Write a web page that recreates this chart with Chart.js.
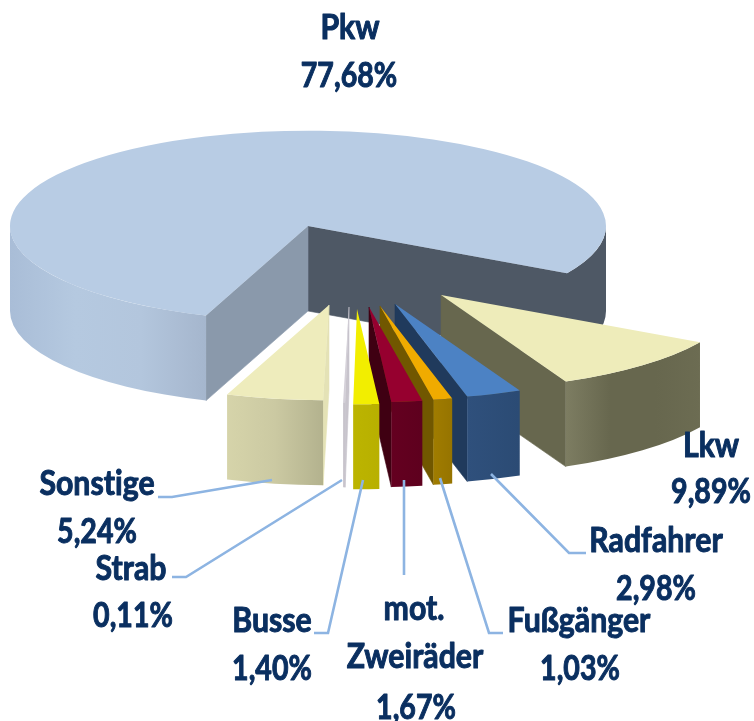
<!DOCTYPE html>
<html lang="de">
<head>
<meta charset="utf-8">
<title>Modal Split</title>
<script src="https://cdn.jsdelivr.net/npm/chart.js@4/dist/chart.umd.min.js"></script>
<style>
html,body{margin:0;padding:0;background:#fff;overflow:hidden}
#wrap{position:absolute;left:0;top:0;width:754px;height:721px}
canvas{display:block;filter:blur(0.55px)}
</style>
</head>
<body>
<div id="wrap"><canvas id="c" width="754" height="721"></canvas></div>
<script>
// ---- data ----
const categories = ['Pkw','Lkw','Radfahrer','Fußgänger','mot. Zweiräder','Busse','Strab','Sonstige'];
const shares = [77.68,9.89,2.98,1.03,1.67,1.40,0.11,5.24];

// ---- styles ----
const topColors = ['#b8cce4','#eeecba','#4c82c4','#f0ab00','#96002f','#f2ee00','#d4d0d8','#eeecbc'];
const cutStartColors = ['#8a99ab','#67674e','#203a5c','#715700','#3f0012','#b8b000','#c8c4cc','#e4e2b6'];
const cutEndColors = ['#4e5865','#67674e','#203a5c','#715700','#3f0012','#b8b000','#c8c4cc','#e4e2b6'];
const rimStops = [
  [['#a9bdd7','#b5c9e0','#b3c6dd','#a5b6cd'],['#4e5865','#4e5865']],
  [['#7d7d62','#67674e','#67674e','#6c6c52']],
  [['#2f507c','#2b4b74']],
  [['#a07c00','#967400']],
  [['#640020','#5e001e']],
  [['#bcb400','#b8b000']],
  [['#c8c4cc','#c8c4cc']],
  [['#d6d4aa','#cbc9a2','#b3b28e']]
];
const tiltRatio = 0.32, wallDepth = 85, pieRadius = 298;
const explodeShift = [[0,0],[133,69],[87,78],[72,80],[61,81],[49,83],[41,81],[21,79]];
const textColor = '#0a2f60', leaderColor = '#8db4e2';
const labelFont = 'bold 34px "Lato",sans-serif';
const nameSqueeze = 0.89, percentSqueeze = 0.84;
const labelLines = [
  [['Pkw',350,39],[0,349,87]],
  [['Lkw',711,457],[1,711,503]],
  [['Radfahrer',656,552],[2,656,600]],
  [['Fußgänger',579,632],[3,580,680]],
  [['mot.',414,620],['Zweiräder',415,668],[4,416,719]],
  [['Busse',272,632],[5,272,680]],
  [['Strab',131,580],[6,133,627]],
  [['Sonstige',97,495],[7,97,543]]
];
const leaders = [
  [[158,497],[172,497],[272,480]],
  [[172,577],[186,577],[342,480]],
  [[314,633],[328,633],[363,480]],
  [[404,480],[404,575]],
  [[440,478],[489,633],[503,633]],
  [[491,474],[569,553],[586,553]]
];

function percentText(v){ return v.toFixed(2).replace('.',',') + '%'; }

function rimIntervals(a0,a1){
  const out=[], tau=Math.PI*2;
  for(let k=Math.floor(a0/tau)-1;k<=Math.ceil(a1/tau);k++){
    const s=Math.max(a0,k*tau), e=Math.min(a1,k*tau+Math.PI);
    if(e>s) out.push([s,e]);
  }
  return out;
}

const pie3d = {
  id:'pie3d',
  beforeDatasetDraw(chart,args){
    const ctx=chart.ctx, arcs=chart.getDatasetMeta(args.index).data;
    arcs.forEach((el,i)=>{
      const {x,y,startAngle:a0,endAngle:a1,outerRadius:R}=el;
      const cx=x+explodeShift[i][0], cy=y+explodeShift[i][1], ry=R*tiltRatio;
      const px=t=>cx+R*Math.cos(t), py=t=>cy+ry*Math.sin(t);
      const quad=(t,color)=>{
        ctx.fillStyle=color; ctx.strokeStyle=color; ctx.lineWidth=0.6;
        ctx.beginPath(); ctx.moveTo(cx,cy); ctx.lineTo(px(t),py(t));
        ctx.lineTo(px(t),py(t)+wallDepth); ctx.lineTo(cx,cy+wallDepth); ctx.closePath();
        ctx.fill(); ctx.stroke();
      };
      if(Math.cos(a1)>0) quad(a1,cutEndColors[i]);
      if(Math.cos(a0)<0) quad(a0,cutStartColors[i]);
      rimIntervals(a0,a1).forEach((iv,n)=>{
        const xs=[px(iv[0]),px(iv[1])];
        const left=Math.min(...xs), right=Math.max(...xs);
        const stops=(rimStops[i][n]||rimStops[i][0]);
        const g=ctx.createLinearGradient(left,0,Math.max(right,left+1),0);
        stops.forEach((c,k)=>g.addColorStop(stops.length>1?k/(stops.length-1):0,c));
        ctx.fillStyle=g;
        ctx.beginPath();
        ctx.ellipse(cx,cy,R,ry,0,iv[0],iv[1]);
        ctx.ellipse(cx,cy+wallDepth,R,ry,0,iv[1],iv[0],true);
        ctx.closePath(); ctx.fill();
      });
      ctx.save();
      ctx.translate(cx,cy); ctx.scale(1,tiltRatio); ctx.translate(-x,-y);
      el.draw(ctx);
      ctx.restore();
    });
    return false;
  },
  afterDraw(chart){
    const ctx=chart.ctx;
    ctx.save();
    ctx.strokeStyle=leaderColor; ctx.lineWidth=2.6; ctx.lineJoin='miter';
    leaders.forEach(pts=>{
      ctx.beginPath();
      pts.forEach((p,k)=>k?ctx.lineTo(p[0],p[1]):ctx.moveTo(p[0],p[1]));
      ctx.stroke();
    });
    ctx.fillStyle=textColor; ctx.strokeStyle=textColor; ctx.lineWidth=1; ctx.lineJoin='round';
    ctx.font=labelFont; ctx.textAlign='center'; ctx.textBaseline='alphabetic';
    ctx.letterSpacing='0.01px';
    labelLines.forEach(lines=>lines.forEach(([t,lx,ly])=>{
      const isPct=typeof t==='number', s=isPct?percentSqueeze:nameSqueeze;
      const str=isPct?percentText(shares[t]):t;
      ctx.save();
      ctx.translate(lx,ly); ctx.scale(s,1);
      ctx.fillText(str,0,0);
      ctx.strokeText(str,0,0);
      ctx.restore();
    }));
    ctx.restore();
  }
};

new Chart(document.getElementById('c'),{
  type:'pie',
  data:{labels:categories,datasets:[{
    data:shares,
    backgroundColor:topColors,
    borderWidth:0,
    radius:pieRadius
  }]},
  options:{
    responsive:false,
    animation:false,
    rotation:200,
    layout:{padding:{left:0,top:0,right:138,bottom:269}},
    plugins:{legend:{display:false},tooltip:{enabled:false},title:{display:false}}
  },
  plugins:[pie3d]
});
</script>
</body>
</html>
